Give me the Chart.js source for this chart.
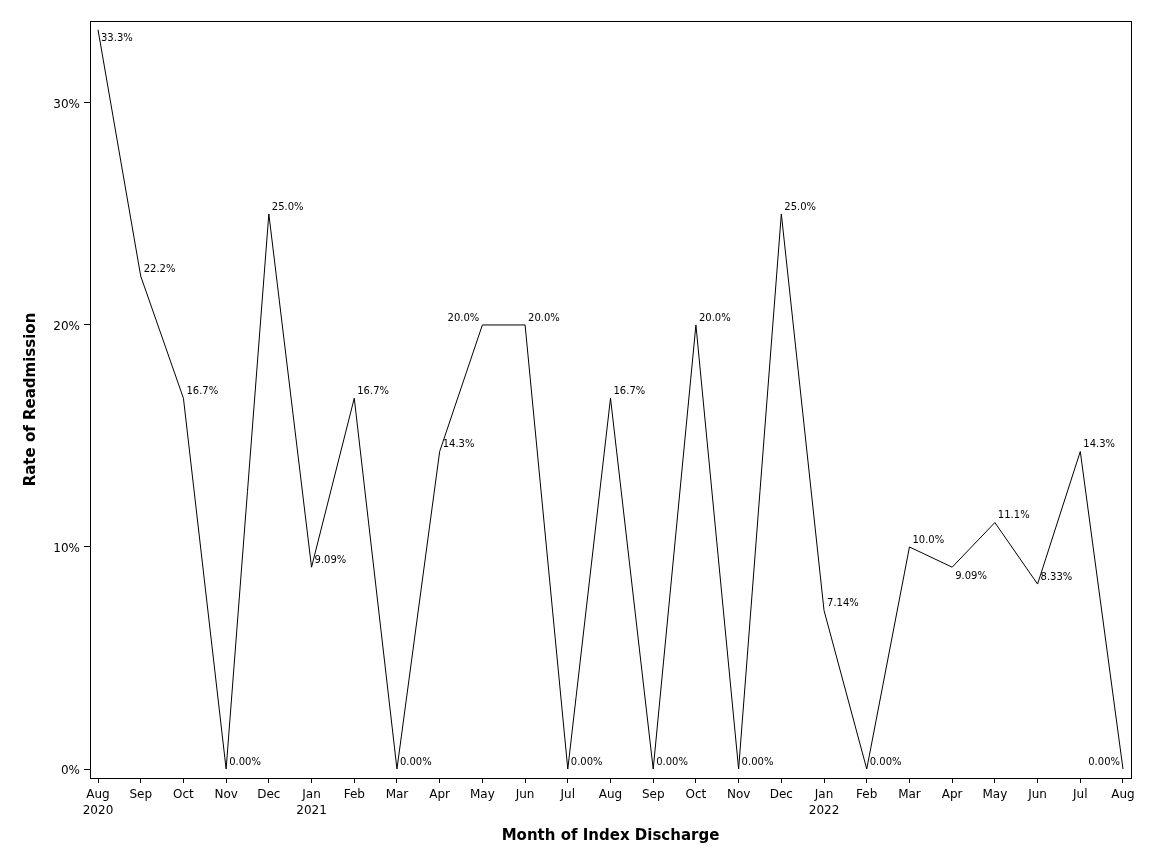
<!DOCTYPE html>
<html>
<head>
<meta charset="utf-8">
<script src="https://cdn.jsdelivr.net/npm/chart.js@4/dist/chart.umd.min.js"></script>
<style>
  html, body { margin: 0; padding: 0; background: #fff; }
  #wrap { width: 1152px; height: 864px; }
</style>
</head>
<body>
<div id="wrap"><canvas id="rateChart"></canvas></div>
<script>
const months = ["Aug", "Sep", "Oct", "Nov", "Dec", "Jan", "Feb", "Mar", "Apr", "May", "Jun", "Jul",
                "Aug", "Sep", "Oct", "Nov", "Dec", "Jan", "Feb", "Mar", "Apr", "May", "Jun", "Jul", "Aug"];
const years = ["2020", "", "", "", "", "2021", "", "", "", "", "", "",
               "", "", "", "", "", "2022", "", "", "", "", "", "", ""];
const rates = [33.3, 22.2, 16.7, 0, 25.0, 9.09, 16.7, 0, 14.3, 20.0, 20.0, 0,
               16.7, 0, 20.0, 0, 25.0, 7.14, 0, 10.0, 9.09, 11.1, 8.33, 14.3, 0];
const yTicks = [0, 10, 20, 30];

// where each point label sits relative to its point (default: above right)
const labelSpots = { 0: "belowRight", 9: "aboveLeft", 20: "belowRight", 24: "aboveLeft" };

const fontFamily = "'DejaVu Sans', sans-serif";

const pointLabels = {
    id: "pointLabels",
    afterDatasetsDraw(chart) {
        const ctx = chart.ctx;
        const meta = chart.getDatasetMeta(0);
        ctx.save();
        ctx.font = "10px " + fontFamily;
        ctx.fillStyle = "#000";
        ctx.textBaseline = "middle";
        meta.data.forEach((pt, i) => {
            const text = rates[i].toPrecision(3) + "%";
            const spot = labelSpots[i] || "aboveRight";
            let x = pt.x + 3;
            let y = pt.y - 7;
            ctx.textAlign = "left";
            if (spot === "belowRight") { y = pt.y + 9; }
            if (spot === "aboveLeft") { x = pt.x - 3; ctx.textAlign = "right"; }
            ctx.fillText(text, x, y);
        });
        ctx.restore();
    }
};

const frame = {
    id: "frame",
    afterDraw(chart) {
        const a = chart.chartArea;
        const ctx = chart.ctx;
        ctx.save();
        ctx.strokeStyle = "#000";
        ctx.lineWidth = 1;
        ctx.strokeRect(Math.round(a.left) + 0.5, Math.round(a.top) + 0.5,
                       Math.round(a.right - a.left), Math.round(a.bottom - a.top));
        ctx.restore();
    }
};

new Chart(document.getElementById("rateChart"), {
    type: "line",
    data: {
        datasets: [{
            data: rates.map((v, i) => ({ x: i, y: v })),
            borderColor: "#000",
            borderWidth: 1,
            pointRadius: 0,
            tension: 0,
            fill: false
        }]
    },
    options: {
        responsive: true,
        maintainAspectRatio: false,
        animation: false,
        layout: { padding: { top: 21, right: 21, left: 0, bottom: 0 } },
        plugins: { legend: { display: false }, tooltip: { enabled: false } },
        scales: {
            x: {
                type: "linear",
                min: -0.1875,
                max: 24.1875,
                afterBuildTicks: (scale) => { scale.ticks = months.map((m, i) => ({ value: i })); },
                afterFit: (scale) => { scale.height = 86; },
                ticks: {
                    autoSkip: false,
                    maxRotation: 0,
                    padding: 4,
                    color: "#000",
                    font: { family: fontFamily, size: 12, lineHeight: 1.35 },
                    callback: (v) => years[v] ? [months[v], years[v]] : months[v]
                },
                grid: { drawOnChartArea: false, drawTicks: true, tickLength: 5, tickColor: "#000" },
                border: { display: true, color: "#000" },
                title: {
                    display: true,
                    text: "Month of Index Discharge",
                    color: "#000",
                    font: { family: fontFamily, size: 15, weight: "bold" },
                    padding: { top: 0, bottom: 19 }
                }
            },
            y: {
                min: -0.405,
                max: 33.69,
                afterBuildTicks: (scale) => { scale.ticks = yTicks.map(v => ({ value: v })); },
                afterFit: (scale) => { scale.width = 90; },
                ticks: {
                    padding: 4,
                    labelOffset: 2,
                    color: "#000",
                    font: { family: fontFamily, size: 12 },
                    callback: (v) => v + "%"
                },
                grid: { drawOnChartArea: false, drawTicks: true, tickLength: 6, tickColor: "#000" },
                border: { display: true, color: "#000" },
                title: {
                    display: true,
                    text: "Rate of Readmission",
                    color: "#000",
                    font: { family: fontFamily, size: 15, weight: "bold" },
                    padding: { top: 22, bottom: 0 }
                }
            }
        }
    },
    plugins: [pointLabels, frame]
});
</script>
</body>
</html>
